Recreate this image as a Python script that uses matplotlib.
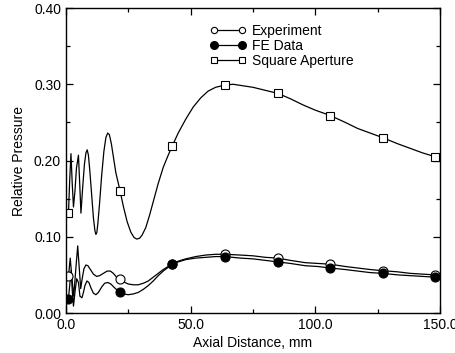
import numpy as np
import matplotlib
matplotlib.use('Agg')
import matplotlib.pyplot as plt
from matplotlib.lines import Line2D
from matplotlib.ticker import MultipleLocator, FormatStrFormatter

plt.rcParams['font.family'] = ['Liberation Sans', 'DejaVu Sans']

# marker positions (mm)
mark_x = [1.0, 21.7, 42.6, 63.8, 85.0, 106.0, 127.0, 148.0]
exp_mark = [0.048, 0.044, 0.064, 0.077, 0.072, 0.064, 0.0555, 0.050]
fe_mark = [0.019, 0.027, 0.064, 0.074, 0.067, 0.059, 0.052, 0.047]
sq_mark = [0.131, 0.160, 0.219, 0.299, 0.288, 0.259, 0.230, 0.205]

# traced curves
sq_x = [1.0, 1.5, 2.0, 2.5, 3.0, 3.6, 4.2, 5.0, 5.5, 6.0, 6.7, 7.4, 8.0, 8.5,
        9.0, 9.6, 10.3, 11.0, 11.6, 12.0, 12.4, 12.8, 13.5, 14.3, 15.2, 16.0,
        16.7, 17.4, 18.2, 19.0, 20.0, 21.7, 23, 24.5, 26, 27.3, 28.4, 29.5,
        30.5, 32, 33.5, 35, 37, 39, 41, 42.6, 45, 48, 51, 54, 57, 60, 63.8,
        67, 71, 75, 80, 85, 90, 95, 100, 106, 112, 117, 122, 127, 133, 138,
        143, 148]
sq_y = [0.131, 0.175, 0.209, 0.170, 0.139, 0.160, 0.190, 0.207, 0.170, 0.131,
        0.165, 0.195, 0.210, 0.214, 0.207, 0.185, 0.155, 0.125, 0.108, 0.103,
        0.106, 0.118, 0.145, 0.180, 0.212, 0.230, 0.236, 0.234, 0.222, 0.205,
        0.184, 0.160, 0.140, 0.120, 0.106, 0.099, 0.097, 0.098, 0.102, 0.112,
        0.128, 0.146, 0.170, 0.191, 0.207, 0.219, 0.236, 0.254, 0.270, 0.282,
        0.291, 0.296, 0.299, 0.300, 0.298, 0.296, 0.292, 0.288, 0.281, 0.273,
        0.266, 0.259, 0.250, 0.242, 0.236, 0.230, 0.222, 0.216, 0.210, 0.205]

exp_x = [1.0, 1.7, 2.4, 3.1, 4.0, 4.7, 5.3, 5.9, 6.5, 7.2, 8.0, 8.8, 9.8,
         11.0, 12.3, 13.5, 15.0, 16.5, 17.8, 19.0, 20.3, 21.7, 23, 25, 27, 29,
         31, 33, 35, 37, 39, 41, 42.6, 45, 48, 52, 56, 60, 63.8, 70, 75, 80,
         85, 90, 96, 101, 106, 112, 117, 122, 127, 133, 138, 143, 148]
exp_y = [0.048, 0.072, 0.045, 0.022, 0.060, 0.088, 0.060, 0.032, 0.045, 0.058,
         0.063, 0.062, 0.057, 0.051, 0.048, 0.049, 0.052, 0.055, 0.055, 0.052,
         0.047, 0.044, 0.041, 0.038, 0.037, 0.037, 0.039, 0.042, 0.047, 0.052,
         0.057, 0.061, 0.064, 0.068, 0.071, 0.074, 0.076, 0.077, 0.077, 0.076,
         0.075, 0.073, 0.072, 0.069, 0.066, 0.065, 0.064, 0.061, 0.059, 0.057,
         0.0555, 0.054, 0.052, 0.051, 0.050]

fe_x = [1.0, 1.6, 2.1, 2.5, 3.0, 3.7, 4.3, 5.0, 5.6, 6.4, 7.0, 7.6, 8.4, 9.2,
        10.0, 11.0, 12.0, 13.0, 14.3, 15.5, 16.8, 18.0, 19.2, 20.5, 21.7, 23,
        25, 27, 29, 31, 33, 35, 37, 39, 41, 42.6, 45, 48, 52, 56, 60, 63.8, 70,
        75, 80, 85, 90, 96, 101, 106, 112, 117, 122, 127, 133, 138, 143, 148]
fe_y = [0.019, 0.040, 0.056, 0.030, 0.009, 0.030, 0.045, 0.040, 0.022, 0.020,
        0.027, 0.036, 0.042, 0.040, 0.033, 0.026, 0.024, 0.027, 0.034, 0.039,
        0.040, 0.038, 0.034, 0.030, 0.027, 0.025, 0.024, 0.025, 0.027, 0.031,
        0.036, 0.042, 0.049, 0.055, 0.060, 0.064, 0.067, 0.070, 0.072, 0.073,
        0.074, 0.074, 0.072, 0.071, 0.069, 0.067, 0.065, 0.062, 0.061, 0.059,
        0.057, 0.055, 0.053, 0.052, 0.050, 0.049, 0.048, 0.047]

fig = plt.figure(figsize=(4.56, 3.53), dpi=100)
ax = fig.add_axes([0.1447, 0.1133, 0.8202, 0.864])

lw = 0.9
ax.plot(sq_x, sq_y, 'k-', lw=lw)
ax.plot(exp_x, exp_y, 'k-', lw=lw)
ax.plot(fe_x, fe_y, 'k-', lw=lw)
ax.plot(mark_x, sq_mark, 's', ms=5.5, mfc='white', mec='k', mew=0.8)
ax.plot(mark_x, exp_mark, 'o', ms=6.5, mfc='white', mec='k', mew=0.8)
ax.plot(mark_x, fe_mark, 'o', ms=6.5, mfc='k', mec='k', mew=0.8)

ax.set_xlim(0, 150)
ax.set_ylim(0, 0.40)
ax.xaxis.set_major_locator(MultipleLocator(50))
ax.xaxis.set_minor_locator(MultipleLocator(25))
ax.yaxis.set_major_locator(MultipleLocator(0.1))
ax.yaxis.set_minor_locator(MultipleLocator(0.05))
ax.xaxis.set_major_formatter(FormatStrFormatter('%.1f'))
ax.yaxis.set_major_formatter(FormatStrFormatter('%.2f'))
ax.tick_params(which='both', direction='in', top=True, right=True, labelsize=10)
ax.tick_params(which='major', length=5, width=0.9)
ax.tick_params(which='minor', length=3, width=0.9)
for s in ax.spines.values():
    s.set_linewidth(1.0)

ax.set_xlabel('Axial Distance, mm', fontsize=10, labelpad=3)
ax.set_ylabel('Relative Pressure', fontsize=10, labelpad=6)

handles = [
    Line2D([], [], color='k', lw=lw, marker='o', ms=4.5, mfc='white', mec='k', mew=0.8),
    Line2D([], [], color='k', lw=lw, marker='o', ms=5.5, mfc='k', mec='k'),
    Line2D([], [], color='k', lw=lw, marker='s', ms=4, mfc='white', mec='k', mew=0.8),
]
ax.legend(handles, ['Experiment', 'FE Data', 'Square Aperture'], numpoints=2,
          loc='upper left', bbox_to_anchor=(0.37, 0.965), frameon=False,
          fontsize=10, handlelength=2.6, handletextpad=0.4, labelspacing=0.05,
          borderaxespad=0)

fig.savefig('out.png', dpi=100)
